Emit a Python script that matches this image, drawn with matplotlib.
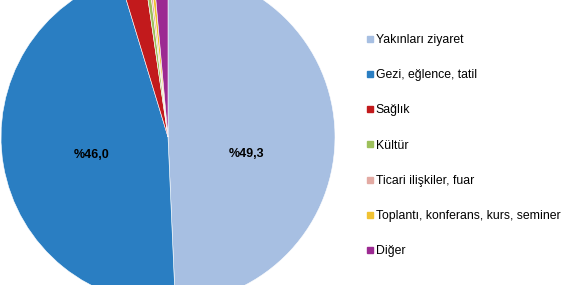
import matplotlib.pyplot as plt
from matplotlib.lines import Line2D

plt.rcParams['font.family'] = ['Liberation Sans', 'DejaVu Sans']

categories = ['Yakınları ziyaret', 'Gezi, eğlence, tatil', 'Sağlık', 'Kültür',
              'Ticari ilişkiler, fuar', 'Toplantı, konferans, kurs, seminer', 'Diğer']
shares = [49.3, 46.0, 2.4, 0.4, 0.2, 0.3, 1.4]
colors = ['#a7bfe2', '#2a7ec2', '#c21a1c', '#9dc05b', '#e3aaa3', '#f1c232', '#9c2a92']
shown = ['%49,3', '%46,0', '', '', '', '', '']

W, H = 563, 285
fig = plt.figure(figsize=(W / 100, H / 100), dpi=100)

# pie center at (168,148) px from bottom-left, radius 167 px (cut top & bottom)
cx, cy, r = 168, 148, 167
ax = fig.add_axes([(cx - r) / W, (cy - r) / H, 2 * r / W, 2 * r / H])
wedges, texts = ax.pie(shares, colors=colors, startangle=90, counterclock=False,
                       labels=shown, labeldistance=0.5,
                       wedgeprops=dict(edgecolor='white', linewidth=0.4))
# excel label positions
texts[0].set_position((0.47, -0.10))
texts[1].set_position((-0.46, -0.11))
for t in texts:
    t.set_fontsize(9)
    t.set_fontweight('bold')
    t.set_ha('center')
    t.set_va('center')
ax.set_xlim(-1, 1)
ax.set_ylim(-1, 1)
ax.set_aspect('equal')
ax.axis('off')

handles = [Line2D([], [], marker='s', linestyle='', markersize=4, markerfacecolor=c,
                  markeredgecolor=c) for c in colors]
fig.legend(handles, categories, loc='upper left', bbox_to_anchor=(366 / W, 1 - 34 / H),
           frameon=False, fontsize=8.8, handlelength=0.6, handletextpad=0.2,
           labelspacing=1.9, borderaxespad=0, borderpad=0)

fig.savefig('out.png', dpi=100)
